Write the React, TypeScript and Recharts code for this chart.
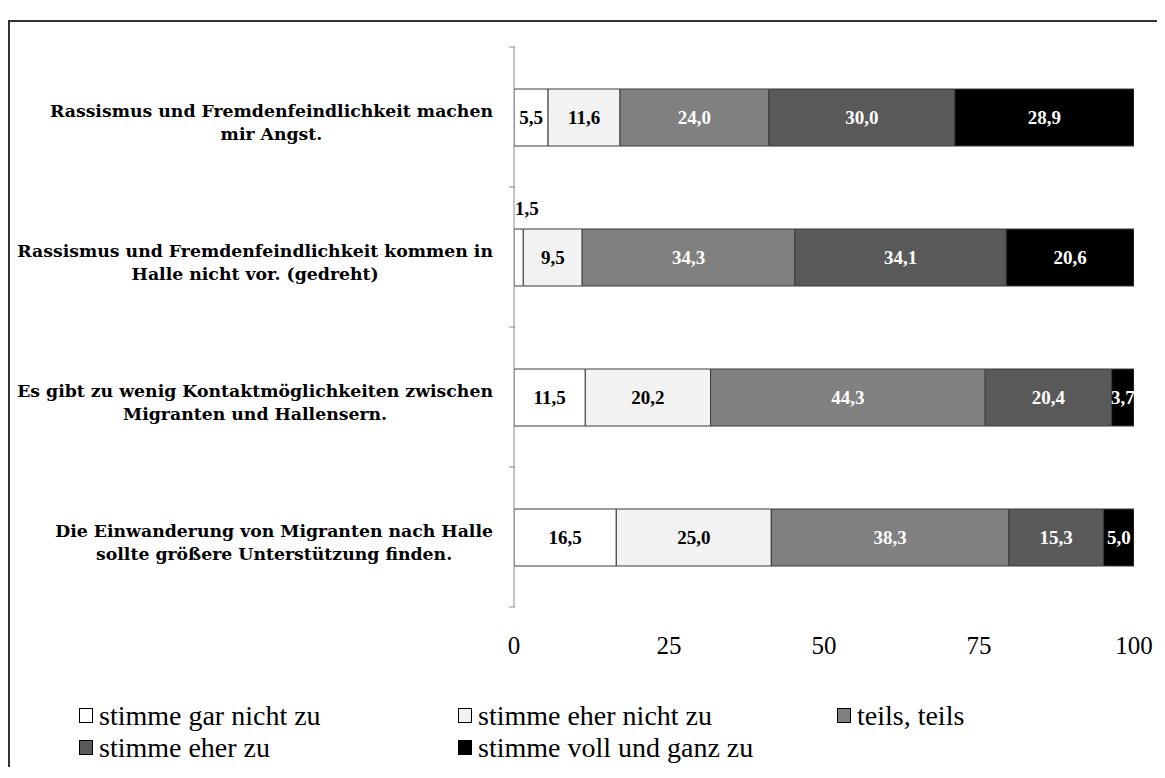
import React from "react";
import { BarChart, Bar, XAxis, YAxis, LabelList, Legend } from "recharts";

// statements (two lines each)
const categories = [
  ["Rassismus und Fremdenfeindlichkeit machen", "mir Angst."],
  ["Rassismus und Fremdenfeindlichkeit kommen in", "Halle nicht vor. (gedreht)"],
  ["Es gibt zu wenig Kontaktmöglichkeiten zwischen", "Migranten und Hallensern."],
  ["Die Einwanderung von Migranten nach Halle", "sollte größere Unterstützung finden."],
];

const garNicht = [5.5, 1.5, 11.5, 16.5];
const eherNicht = [11.6, 9.5, 20.2, 25.0];
const teils = [24.0, 34.3, 44.3, 38.3];
const eherZu = [30.0, 34.1, 20.4, 15.3];
const vollZu = [28.9, 20.6, 3.7, 5.0];

const seriesNames = [
  "stimme gar nicht zu",
  "stimme eher nicht zu",
  "teils, teils",
  "stimme eher zu",
  "stimme voll und ganz zu",
];
const seriesColors = ["#ffffff", "#f2f2f2", "#808080", "#595959", "#000000"];
const labelColors = ["#000", "#000", "#fff", "#fff", "#fff"];
const xTicks = [0, 25, 50, 75, 100];

const rows = categories.map((c, i) => ({
  name: c.join("|"),
  s0: garNicht[i],
  s1: eherNicht[i],
  s2: teils[i],
  s3: eherZu[i],
  s4: vollZu[i],
}));

const AXIS = "#8c8c8c";
const LABEL_SIZE = 17.3;
const LABEL_FONT = `bold ${LABEL_SIZE}px "DejaVu Serif"`;
const LABEL_RIGHT = 483;

let ctx: CanvasRenderingContext2D | null = null;
const measure = (s: string) => {
  if (!ctx) ctx = document.createElement("canvas").getContext("2d");
  ctx!.font = LABEL_FONT;
  return ctx!.measureText(s).width;
};

// category label + Excel-style tick marks at the band edges
const CategoryTick = (props: any) => {
  const { x, y, payload, index, visibleTicksCount } = props;
  const lines: string[] = String(payload.value).split("|");
  const w = Math.max(...lines.map(measure));
  const cx = LABEL_RIGHT - w / 2;
  const half = payload.offset || 0;
  const axisX = x + 1;
  return (
    <g>
      <line x1={axisX - 6} x2={axisX} y1={y - half} y2={y - half} stroke={AXIS} />
      {index === visibleTicksCount - 1 && (
        <line x1={axisX - 6} x2={axisX} y1={y + half} y2={y + half} stroke={AXIS} />
      )}
      <text
        textAnchor="middle"
        fontFamily="DejaVu Serif"
        fontWeight="bold"
        fontSize={LABEL_SIZE}
        fill="#000"
      >
        <tspan x={cx} y={y}>{lines[0]}</tspan>
        <tspan x={cx} y={y + 23}>{lines[1]}</tspan>
      </text>
    </g>
  );
};

const fmt = (v: number) => v.toFixed(1).replace(".", ",");

const makeLabel = (color: string) => (props: any) => {
  const { x, y, width, height, value } = props;
  if (width < 14) {
    return (
      <text x={x + 1} y={y - 14} fill="#000" fontFamily="Liberation Serif" fontWeight="bold" fontSize={19}>
        {fmt(value)}
      </text>
    );
  }
  return (
    <text
      x={x + width / 2}
      y={y + height / 2}
      textAnchor="middle"
      dominantBaseline="central"
      fill={color}
      fontFamily="Liberation Serif"
      fontWeight="bold"
      fontSize={19}
    >
      {fmt(value)}
    </text>
  );
};

const legendSpots = [
  { left: 69, top: 686 },
  { left: 448, top: 686 },
  { left: 827, top: 686 },
  { left: 69, top: 718 },
  { left: 448, top: 718 },
];

const LegendContent = () => (
  <div style={{ position: "relative", width: 1155, height: 745 }}>
    {seriesNames.map((n, i) => (
      <div
        key={n}
        style={{
          position: "absolute",
          left: legendSpots[i].left,
          top: legendSpots[i].top - 8,
          height: 31,
          display: "flex",
          alignItems: "center",
          whiteSpace: "nowrap",
        }}
      >
        <span
          style={{
            width: 12,
            height: 13,
            border: "1px solid #000",
            background: seriesColors[i],
            display: "inline-block",
            marginRight: 6,
          }}
        />
        <span style={{ fontFamily: '"Liberation Serif", serif', fontSize: 28, color: "#000" }}>{n}</span>
      </div>
    ))}
  </div>
);

export default function App() {
  return (
    <div
      style={{
        position: "relative",
        width: 1155,
        height: 745,
        marginTop: 12,
        borderLeft: "2px solid #333",
        borderTop: "2px solid #333",
      }}
    >
      <BarChart
        layout="vertical"
        width={1155}
        height={745}
        data={rows}
        margin={{ top: 25, right: 31, left: 0, bottom: 0 }}
        barSize={57}
      >
        <XAxis
          type="number"
          domain={[0, 100]}
          ticks={xTicks}
          allowDataOverflow
          axisLine={false}
          tickLine={false}
          tickSize={0}
          tickMargin={29}
          height={160}
          tick={{ fontFamily: "Liberation Serif", fontSize: 25, fill: "#000" }}
        />
        <YAxis
          type="category"
          dataKey="name"
          width={504}
          axisLine={{ stroke: AXIS }}
          tickLine={false}
          tickSize={0}
          tickMargin={0}
          tick={<CategoryTick />}
        />
        {["s0", "s1", "s2", "s3", "s4"].map((k, i) => (
          <Bar
            key={k}
            dataKey={k}
            name={seriesNames[i]}
            stackId="a"
            fill={seriesColors[i]}
            stroke="#3a3a3a"
            strokeWidth={1}
            isAnimationActive={false}
          >
            <LabelList dataKey={k} content={makeLabel(labelColors[i])} />
          </Bar>
        ))}
        <Legend
          layout="horizontal"
          verticalAlign="middle"
          content={<LegendContent />}
          wrapperStyle={{ position: "absolute", left: 0, top: 0, width: 1155, height: 745, pointerEvents: "none" }}
        />
      </BarChart>
    </div>
  );
}
